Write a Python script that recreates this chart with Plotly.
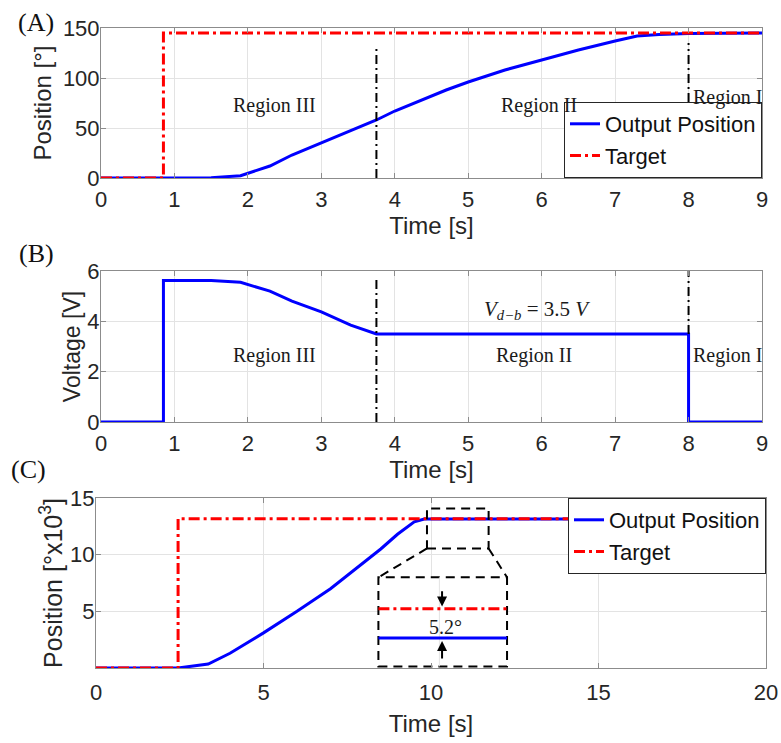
import plotly.graph_objects as go

# ---------------- data ----------------
# Panel A : position response
t_out_a = [0, 1.5, 1.9, 2.3, 2.6, 3.0, 3.4, 3.75, 4.0, 4.7, 5.0, 5.5, 6.0, 6.5, 7.0, 7.3, 7.6, 8.0, 9.0]
pos_out_a = [0, 0.3, 2.3, 12, 23, 35, 47, 58, 67, 88, 96, 108, 118, 128, 137, 142, 143.5, 144.5, 145]
t_tgt_a = [0, 0.85, 0.85, 9.0]
pos_tgt_a = [0, 0, 145, 145]

# Panel B : voltage
t_volt = [0, 0.85, 0.85, 1.5, 1.9, 2.3, 2.6, 3.0, 3.4, 3.75, 8.0, 8.0, 9.0]
volt = [0, 0, 5.62, 5.62, 5.55, 5.2, 4.8, 4.38, 3.85, 3.5, 3.5, 0, 0]

# region boundaries
region_bounds = [3.75, 8.0]
bound_span_a = [[0, 133], [0, 135]]
bound_span_b = [[0, 5.72], [3.5, 6.0]]

# Panel C : long move (x10^3 deg)
t_out_c = [0, 2.45, 3.35, 4.0, 5.0, 6.0, 7.0, 8.0, 8.5, 9.0, 9.5, 9.8, 20]
pos_out_c = [0, 0, 0.35, 1.3, 3.1, 5.0, 7.0, 9.3, 10.5, 11.8, 12.9, 13.15, 13.15]
t_tgt_c = [0, 2.45, 2.45, 20]
pos_tgt_c = [0, 0, 13.18, 13.18]

# zoom inset (drawn in panel C coordinates)
inset_x = [8.43, 12.27]
inset_target = 5.22
inset_output = 2.64
inset_label = "5.2°"

BLUE = "#0000FF"
RED = "#FF0000"
SANS = "Liberation Sans, Arial, Helvetica, sans-serif"
SERIF = "Liberation Serif, Times New Roman, serif"
TXT = "#262626"
RED_DASH = "11px,4px,3px,4px"
BLK_DASH = "9px,4px,2px,4px"

fig = go.Figure()

# ---- Panel A
fig.add_trace(go.Scatter(x=t_out_a, y=pos_out_a, mode="lines", name="Output Position",
                         line=dict(color=BLUE, width=3), xaxis="x", yaxis="y", legend="legend"))
fig.add_trace(go.Scatter(x=t_tgt_a, y=pos_tgt_a, mode="lines", name="Target",
                         line=dict(color=RED, width=3, dash=RED_DASH), xaxis="x", yaxis="y", legend="legend"))
for xb, span in zip(region_bounds, bound_span_a):
    fig.add_trace(go.Scatter(x=[xb, xb], y=span, mode="lines", showlegend=False,
                             line=dict(color="black", width=2, dash=BLK_DASH), xaxis="x", yaxis="y"))

# ---- Panel B
fig.add_trace(go.Scatter(x=t_volt, y=volt, mode="lines", showlegend=False,
                         line=dict(color=BLUE, width=3), xaxis="x2", yaxis="y2"))
for xb, span in zip(region_bounds, bound_span_b):
    fig.add_trace(go.Scatter(x=[xb, xb], y=span, mode="lines", showlegend=False,
                             line=dict(color="black", width=2, dash=BLK_DASH), xaxis="x2", yaxis="y2"))

# ---- Panel C
fig.add_trace(go.Scatter(x=t_out_c, y=pos_out_c, mode="lines", name="Output Position",
                         line=dict(color=BLUE, width=3), xaxis="x3", yaxis="y3", legend="legend2"))
fig.add_trace(go.Scatter(x=t_tgt_c, y=pos_tgt_c, mode="lines", name="Target",
                         line=dict(color=RED, width=3, dash=RED_DASH), xaxis="x3", yaxis="y3", legend="legend2"))
# inset lines
fig.add_trace(go.Scatter(x=inset_x, y=[inset_target] * 2, mode="lines", showlegend=False,
                         line=dict(color=RED, width=3, dash=RED_DASH), xaxis="x3", yaxis="y3"))
fig.add_trace(go.Scatter(x=inset_x, y=[inset_output] * 2, mode="lines", showlegend=False,
                         line=dict(color=BLUE, width=3), xaxis="x3", yaxis="y3"))

W, H = 781, 743
def xd(a, b):
    return [a / W, b / W]
def yd(top, bot):
    return [1 - bot / H, 1 - top / H]

axis_common = dict(showgrid=True, gridcolor="#e3e3e3", gridwidth=1, showline=True,
                   linecolor="#8c8c8c", linewidth=1, mirror="ticks", ticks="inside",
                   ticklen=5, tickcolor="#8c8c8c", zeroline=False, automargin=False,
                   tickfont=dict(family=SANS, size=22, color=TXT))

def xtitle(s, so=2):
    return dict(text=s, font=dict(family=SANS, size=24, color=TXT), standoff=so)
def ytitle(s, so, size=24):
    return dict(text=s, font=dict(family=SANS, size=size, color=TXT), standoff=so)

fig.update_layout(
    width=W, height=H, margin=dict(l=0, r=0, t=0, b=0),
    paper_bgcolor="white", plot_bgcolor="white",
    xaxis=dict(axis_common, domain=xd(101, 762), range=[0, 9], dtick=1, anchor="y",
               ticklabelstandoff=2, title=xtitle("Time [s]")),
    yaxis=dict(axis_common, domain=yd(28, 178), range=[0, 150], tickvals=[0, 50, 100, 150],
               anchor="x", ticklabelstandoff=-4, title=ytitle("Position [°]", 4)),
    xaxis2=dict(axis_common, domain=xd(101, 762), range=[0, 9], dtick=1, anchor="y2",
                ticklabelstandoff=2, title=xtitle("Time [s]")),
    yaxis2=dict(axis_common, domain=yd(271, 422), range=[0, 6], tickvals=[0, 2, 4, 6],
                anchor="x2", ticklabelstandoff=-4, title=ytitle("Voltage [V]", 0, 23)),
    xaxis3=dict(axis_common, domain=xd(96, 766), range=[0, 20], tickvals=[0, 5, 10, 15, 20],
                anchor="y3", ticklabelstandoff=5, title=xtitle("Time [s]", 10)),
    yaxis3=dict(axis_common, domain=yd(498, 668), range=[0, 15], tickvals=[5, 10, 15],
                anchor="x3", ticklabelstandoff=-4, title=ytitle("Position [°x10<sup>3</sup>]", 0, 25)),
    legend=dict(x=762 / W, xanchor="right", y=1 - 178 / H, yanchor="bottom",
                bgcolor="white", bordercolor="#262626", borderwidth=1,
                font=dict(family=SANS, size=22, color="#111"), tracegroupgap=0,
                itemwidth=30),
    legend2=dict(x=766 / W, xanchor="right", y=1 - 498 / H, yanchor="top",
                 bgcolor="white", bordercolor="#262626", borderwidth=1,
                 font=dict(family=SANS, size=22, color="#111"), tracegroupgap=0,
                 itemwidth=30),
    showlegend=True,
)

# inset shapes (panel C)
dash_blk = dict(color="black", width=2, dash="9px,6px")
shapes = [
    dict(type="rect", xref="x3", yref="y3", x0=9.88, x1=11.72, y0=10.55, y1=14.07,
         line=dash_blk, layer="above"),
    dict(type="rect", xref="x3", yref="y3", x0=inset_x[0], x1=inset_x[1], y0=0.14, y1=8.0,
         line=dash_blk, fillcolor="white", layer="between"),
    dict(type="line", xref="x3", yref="y3", x0=10.25, x1=10.25, y0=0.14, y1=8.0,
         line=dict(color="#e3e3e3", width=1), layer="between"),
    dict(type="line", xref="x3", yref="y3", x0=9.88, x1=inset_x[0], y0=10.55, y1=8.0,
         line=dash_blk, layer="above"),
    dict(type="line", xref="x3", yref="y3", x0=11.72, x1=inset_x[1], y0=10.55, y1=8.0,
         line=dash_blk, layer="above"),
]
fig.update_layout(shapes=shapes)

ann = []
def txt(x, y, s, xref, yref, size=20, xanchor="center", family=SERIF):
    ann.append(dict(x=x, y=y, xref=xref, yref=yref, text=s, showarrow=False,
                    xanchor=xanchor, yanchor="middle",
                    font=dict(family=family, size=size, color="#1a1a1a")))

# Panel A region labels
txt(2.36, 72, "Region III", "x", "y")
txt(5.96, 72, "Region II", "x", "y")
txt(8.04, 80, "Region I", "x", "y", xanchor="left")
# Panel B region labels
txt(2.36, 2.65, "Region III", "x2", "y2")
txt(5.9, 2.65, "Region II", "x2", "y2")
txt(8.04, 2.65, "Region I", "x2", "y2", xanchor="left")
txt(5.93, 4.45, "<i>V</i><sub><i>d−b</i></sub> = 3.5 <i>V</i>", "x2", "y2", size=21)
# inset label
txt(10.43, 3.66, inset_label, "x3", "y3", size=20)
# panel letters
for lab, px, py in [("(A)", 36, 22), ("(B)", 36, 254), ("(C)", 28, 469)]:
    ann.append(dict(x=px / W, y=1 - py / H, xref="paper", yref="paper", text=lab,
                    showarrow=False, xanchor="center", yanchor="middle",
                    font=dict(family=SERIF, size=26, color="#111")))
# arrows in inset
ann.append(dict(x=10.33, y=inset_target + 0.2, ax=10.33, ay=6.9, xref="x3", yref="y3",
                axref="x3", ayref="y3", showarrow=True, arrowhead=2, arrowsize=1,
                arrowwidth=2, arrowcolor="black", text=""))
ann.append(dict(x=10.33, y=inset_output - 0.25, ax=10.33, ay=0.7, xref="x3", yref="y3",
                axref="x3", ayref="y3", showarrow=True, arrowhead=2, arrowsize=1,
                arrowwidth=2, arrowcolor="black", text=""))
fig.update_layout(annotations=ann)

fig.write_html("out.html", config={"displayModeBar": False},
               post_script="document.body.style.margin='0px';document.body.style.overflow='hidden';")
